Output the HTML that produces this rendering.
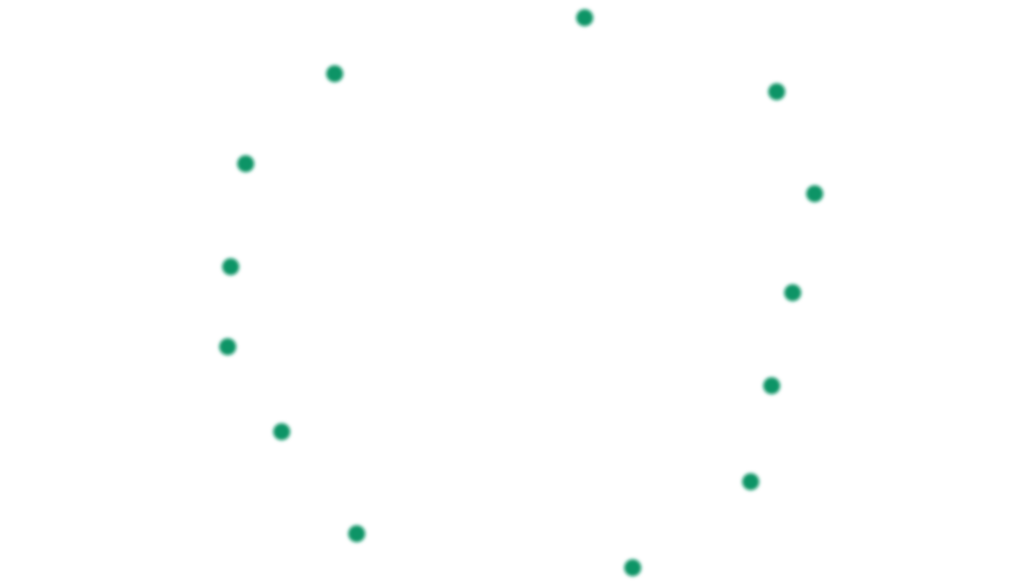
<!DOCTYPE html>
<html><head><meta charset="utf-8"><style>html,body{margin:0;padding:0;background:#fff;width:1035px;height:585px;overflow:hidden}</style></head>
<body>
<svg width="1035" height="585" xmlns="http://www.w3.org/2000/svg">
<defs><filter id="b" x="-50%" y="-50%" width="200%" height="200%"><feGaussianBlur stdDeviation="1.9"/></filter></defs>
<g fill="#0e9466" filter="url(#b)" transform="translate(0.7,0.7)">
<circle cx="584" cy="17" r="8.5"/>
<circle cx="334" cy="73" r="8.5"/>
<circle cx="776" cy="91" r="8.5"/>
<circle cx="245" cy="163" r="8.5"/>
<circle cx="814" cy="193" r="8.5"/>
<circle cx="230" cy="266" r="8.5"/>
<circle cx="792" cy="292" r="8.5"/>
<circle cx="227" cy="346" r="8.5"/>
<circle cx="771" cy="385" r="8.5"/>
<circle cx="281" cy="431" r="8.5"/>
<circle cx="750" cy="481" r="8.5"/>
<circle cx="356" cy="533" r="8.5"/>
<circle cx="632" cy="567" r="8.5"/>
</g>
</svg>
</body></html>
